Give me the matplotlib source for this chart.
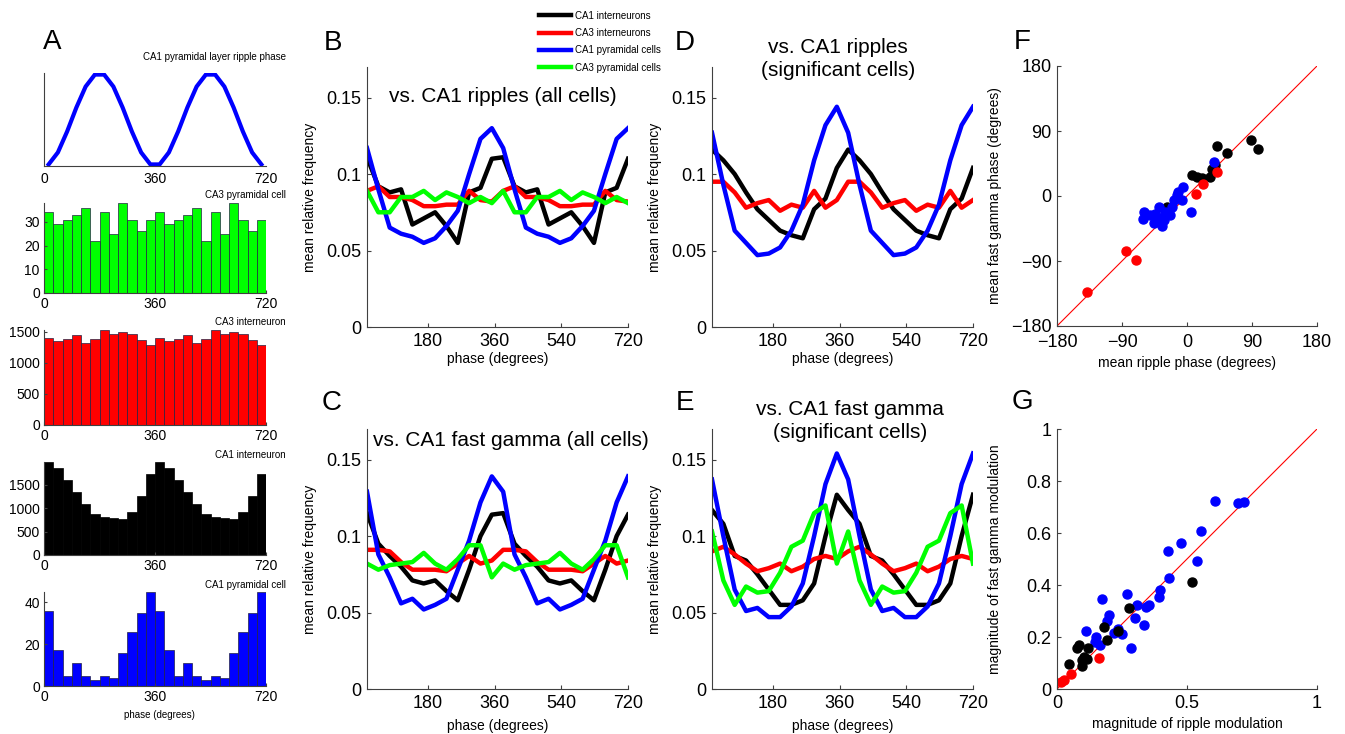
import matplotlib.pyplot as plt
import numpy as np

plt.rcParams["font.family"] = ["Liberation Sans", "DejaVu Sans"]
plt.rcParams["axes.linewidth"] = 0.8
plt.rcParams["axes.edgecolor"] = "#404040"
plt.rcParams["xtick.direction"] = "in"
plt.rcParams["ytick.direction"] = "in"
plt.rcParams["xtick.color"] = "#404040"
plt.rcParams["ytick.color"] = "#404040"
plt.rcParams["xtick.labelcolor"] = "black"
plt.rcParams["ytick.labelcolor"] = "black"

FIG_W, FIG_H = 1345, 734

# phase bins: 30 degree bins over two cycles
bin_edges = np.arange(0, 721, 30)
bin_centers = bin_edges[:-1] + 15
line_phase = np.linspace(15, 720, 24)

# ---- A: example cells, spike counts per phase bin ----
ripple_ref = [0.017, 0.146, 0.371, 0.629, 0.854, 0.983, 0.983, 0.854, 0.629, 0.371, 0.146, 0.017,
              0.017, 0.146, 0.371, 0.629, 0.854, 0.983, 0.983, 0.854, 0.629, 0.371, 0.146, 0.017]
ca3_pyr_counts = [34, 29, 31, 33, 36, 22, 34, 25, 38, 31, 26, 31,
                  34, 29, 31, 33, 36, 22, 34, 25, 38, 31, 26, 31]
ca3_int_counts = [1400, 1355, 1375, 1440, 1310, 1375, 1525, 1455, 1495, 1455, 1370, 1280,
                  1400, 1355, 1375, 1440, 1310, 1375, 1525, 1455, 1495, 1455, 1370, 1280]
ca1_int_counts = [1980, 1860, 1590, 1350, 1090, 880, 800, 790, 760, 910, 1250, 1730,
                  1980, 1860, 1590, 1350, 1090, 880, 800, 790, 760, 910, 1250, 1730]
ca1_pyr_counts = [36, 17, 5, 11, 5, 3, 5, 4, 16, 26, 35, 45,
                  36, 17, 5, 11, 5, 3, 5, 4, 16, 26, 35, 45]

# ---- B-E: mean relative frequency, one cycle each (plotted twice) ----
rip_ca1_int = [0.111, 0.092, 0.088, 0.090, 0.067, 0.071, 0.075, 0.066, 0.055, 0.088, 0.091, 0.110]
rip_ca3_int = [0.089, 0.092, 0.085, 0.085, 0.083, 0.079, 0.079, 0.080, 0.080, 0.089, 0.083, 0.082]
rip_ca1_pyr = [0.117, 0.090, 0.065, 0.061, 0.059, 0.055, 0.058, 0.066, 0.076, 0.100, 0.123, 0.130]
rip_ca3_pyr = [0.089, 0.075, 0.075, 0.085, 0.085, 0.089, 0.083, 0.088, 0.085, 0.081, 0.085, 0.081]

gam_ca1_int = [0.115, 0.095, 0.087, 0.080, 0.071, 0.069, 0.071, 0.064, 0.058, 0.078, 0.100, 0.114]
gam_ca3_int = [0.091, 0.091, 0.090, 0.083, 0.078, 0.078, 0.078, 0.077, 0.082, 0.087, 0.082, 0.084]
gam_ca1_pyr = [0.129, 0.088, 0.073, 0.056, 0.059, 0.052, 0.055, 0.059, 0.078, 0.097, 0.122, 0.139]
gam_ca3_pyr = [0.082, 0.078, 0.081, 0.082, 0.083, 0.089, 0.082, 0.078, 0.085, 0.094, 0.094, 0.073]

rip_sig_ca1_int = [0.116, 0.109, 0.100, 0.088, 0.077, 0.070, 0.063, 0.060, 0.058, 0.077, 0.084, 0.104]
rip_sig_ca3_int = [0.095, 0.095, 0.088, 0.078, 0.081, 0.083, 0.076, 0.080, 0.078, 0.089, 0.078, 0.083]
rip_sig_ca1_pyr = [0.127, 0.093, 0.063, 0.055, 0.047, 0.048, 0.052, 0.063, 0.080, 0.109, 0.132, 0.144]

gam_sig_ca1_int = [0.117, 0.108, 0.087, 0.084, 0.075, 0.065, 0.055, 0.055, 0.058, 0.069, 0.100, 0.127]
gam_sig_ca3_int = [0.090, 0.093, 0.088, 0.082, 0.077, 0.079, 0.082, 0.077, 0.080, 0.085, 0.087, 0.085]
gam_sig_ca1_pyr = [0.137, 0.100, 0.065, 0.051, 0.053, 0.047, 0.047, 0.054, 0.069, 0.100, 0.134, 0.154]
gam_sig_ca3_pyr = [0.103, 0.071, 0.055, 0.067, 0.063, 0.064, 0.076, 0.093, 0.097, 0.115, 0.120, 0.082]

# ---- F: mean phase of each cell, ripple vs fast gamma (degrees) ----
f_ca1_int_x = [-28, 7, 14, 21, 32, 35, 39, 41, 56, 89, 98]
f_ca1_int_y = [-15, 29, 27, 25, 27, 38, 43, 69, 59, 78, 65]
f_ca3_int_x = [-139, -84, -71, 13, 22, 41]
f_ca3_int_y = [-133, -76, -89, 3, 16, 33]
f_ca1_pyr_x = [-60, -61, -51, -46, -39, -35, -38, -30, -23, -18, -12, -5, -7, 5, -44, -21, -14, -32, 37]
f_ca1_pyr_y = [-22, -32, -26, -38, -15, -42, -31, -22, -26, -6, 6, 13, -6, -22, -25, -15, 1, -33, 47]

# ---- G: modulation magnitude, ripple vs fast gamma ----
g_ca1_int_x = [0.048, 0.083, 0.077, 0.102, 0.096, 0.121, 0.115, 0.179, 0.192, 0.236, 0.277, 0.518, 0.096]
g_ca1_int_y = [0.097, 0.170, 0.157, 0.125, 0.113, 0.157, 0.115, 0.237, 0.189, 0.225, 0.313, 0.413, 0.087]
g_ca3_int_x = [0.015, 0.025, 0.054, 0.160]
g_ca3_int_y = [0.028, 0.036, 0.057, 0.120]
g_ca1_pyr_x = [0.111, 0.150, 0.145, 0.164, 0.173, 0.201, 0.194, 0.220, 0.236, 0.250, 0.268, 0.284,
               0.300, 0.307, 0.333, 0.342, 0.355, 0.391, 0.397, 0.430, 0.428, 0.476, 0.537, 0.554,
               0.609, 0.697, 0.719]
g_ca1_pyr_y = [0.225, 0.200, 0.180, 0.168, 0.346, 0.286, 0.263, 0.217, 0.230, 0.210, 0.365, 0.157,
               0.275, 0.322, 0.245, 0.315, 0.325, 0.355, 0.379, 0.427, 0.532, 0.560, 0.494, 0.607,
               0.724, 0.714, 0.720]

GREEN = "#00ff00"
RED = "#ff0000"
BLUE = "#0000ff"
BLACK = "#000000"


def add_axes(fig, left, top, right, bottom):
    """Axes placed by pixel edges."""
    ax = fig.add_axes([left / FIG_W, 1 - bottom / FIG_H,
                       (right - left) / FIG_W, (bottom - top) / FIG_H])
    ax.spines["top"].set_visible(False)
    ax.spines["right"].set_visible(False)
    return ax


def fig_text(fig, x, y, s, **kw):
    fig.text(x / FIG_W, 1 - y / FIG_H, s, **kw)


def two_cycles(cycle):
    return np.concatenate([cycle, cycle])


fig = plt.figure(figsize=(FIG_W / 100, FIG_H / 100), dpi=100)

# ---------------- column A ----------------
hist_rows = [
    (203, 293, ca3_pyr_counts, GREEN, [0, 10, 20, 30], "CA3 pyramidal cell", 195),
    (330, 425, ca3_int_counts, RED, [0, 500, 1000, 1500], "CA3 interneuron", 322),
    (462, 555, ca1_int_counts, BLACK, [0, 500, 1000, 1500], "CA1 interneuron", 455),
    (592, 686, ca1_pyr_counts, BLUE, [0, 20, 40], "CA1 pyramidal cell", 585),
]

ax = add_axes(fig, 44, 73, 266, 166)
ax.plot(bin_centers, ripple_ref, color=BLUE, lw=3.0, solid_joinstyle="miter")
ax.set_xlim(0, 720)
ax.set_ylim(0, 1)
ax.set_yticks([])
ax.set_xticks([0, 360, 720])
ax.tick_params(labelsize=10, length=0, pad=4)
fig_text(fig, 286, 57, "CA1 pyramidal layer ripple phase", fontsize=7, ha="right", va="center")

for top, bottom, counts, color, yticks, name, name_y in hist_rows:
    ax = add_axes(fig, 44, top, 266, bottom)
    edge = "#222244" if color != BLACK else BLACK
    ax.bar(bin_edges[:-1], counts, width=30, align="edge", color=color,
           edgecolor=edge, linewidth=0.5)
    ax.set_xlim(0, 720)
    ax.set_ylim(0, max(counts))
    ax.set_xticks([0, 360, 720])
    ax.set_yticks(yticks)
    ax.tick_params(labelsize=10, length=2.5, pad=3)
    fig_text(fig, 286, name_y, name, fontsize=7, ha="right", va="center")
    last = ax
last.set_xlabel("phase (degrees)", fontsize=7)
last.xaxis.set_label_coords(0.52, -0.26)

fig_text(fig, 52, 42, "A", fontsize=20, ha="center", va="center")

# ---------------- B-E ----------------
line_panels = [
    # (left, top, right, bottom, series, letter, letter_xy, title, title_xy, xlabel_y)
    (367, 67, 628, 327,
     [rip_ca1_int, rip_ca3_int, rip_ca1_pyr, rip_ca3_pyr],
     "B", (333, 43), "vs. CA1 ripples (all cells)", (503, 96), -0.096),
    (367, 429, 628, 689,
     [gam_ca1_int, gam_ca3_int, gam_ca1_pyr, gam_ca3_pyr],
     "C", (332, 403), "vs. CA1 fast gamma (all cells)", (511, 440), -0.115),
    (712, 67, 973, 327,
     [rip_sig_ca1_int, rip_sig_ca3_int, rip_sig_ca1_pyr, None],
     "D", (685, 43), "vs. CA1 ripples\n(significant cells)", (838, 59), -0.096),
    (712, 429, 973, 689,
     [gam_sig_ca1_int, gam_sig_ca3_int, gam_sig_ca1_pyr, gam_sig_ca3_pyr],
     "E", (685, 403), "vs. CA1 fast gamma\n(significant cells)", (850, 421), -0.115),
]
labels = ["CA1 interneurons", "CA3 interneurons", "CA1 pyramidal cells", "CA3 pyramidal cells"]
colors = [BLACK, RED, BLUE, GREEN]

handles = None
for left, top, right, bottom, series, letter, lxy, title, txy, xlab_y in line_panels:
    ax = add_axes(fig, left, top, right, bottom)
    lines = []
    for vals, c, lab in zip(series, colors, labels):
        if vals is None:
            continue
        ln, = ax.plot(line_phase, two_cycles(vals), color=c, lw=3.2, label=lab)
        lines.append(ln)
    if handles is None:
        handles = lines
    ax.set_xlim(15, 720)
    ax.set_ylim(0, 0.17)
    ax.set_xticks([180, 360, 540, 720])
    ax.set_yticks([0, 0.05, 0.1, 0.15])
    ax.set_yticklabels(["0", "0.05", "0.1", "0.15"])
    ax.tick_params(labelsize=13, length=3, pad=4)
    ax.set_xlabel("phase (degrees)", fontsize=10)
    ax.set_ylabel("mean relative frequency", fontsize=10)
    ax.xaxis.set_label_coords(0.5, xlab_y)
    ax.yaxis.set_label_coords(-0.19, 0.5)
    fig_text(fig, lxy[0], lxy[1], letter, fontsize=20, ha="center", va="center")
    fig_text(fig, txy[0], txy[1], title, fontsize=15, ha="center", va="center",
             linespacing=1.3)

fig.legend(handles=handles, loc="upper left", bbox_to_anchor=(535 / FIG_W, 1 - 7 / FIG_H),
           frameon=False, fontsize=7, handlelength=3.3, handletextpad=0.4,
           labelspacing=0.75, borderaxespad=0)

# ---------------- F ----------------
ax = add_axes(fig, 1057, 66, 1317, 326)
ax.plot([-180, 180], [-180, 180], color=RED, lw=0.8)
ax.plot(f_ca1_int_x, f_ca1_int_y, "o", color=BLACK, ms=6.5)
ax.plot(f_ca3_int_x, f_ca3_int_y, "o", color=RED, ms=6.5)
ax.plot(f_ca1_pyr_x, f_ca1_pyr_y, "o", color=BLUE, ms=6.5)
ax.set_xlim(-180, 180)
ax.set_ylim(-180, 180)
ax.set_xticks([-180, -90, 0, 90, 180])
ax.set_yticks([-180, -90, 0, 90, 180])
ax.tick_params(labelsize=13, length=3, pad=4)
ax.tick_params(axis="x", pad=6)
ax.set_xlabel("mean ripple phase (degrees)", fontsize=10)
ax.set_ylabel("mean fast gamma phase (degrees)", fontsize=10)
ax.xaxis.set_label_coords(0.5, -0.115)
ax.yaxis.set_label_coords(-0.21, 0.5)
fig_text(fig, 1022, 42, "F", fontsize=20, ha="center", va="center")

# ---------------- G ----------------
ax = add_axes(fig, 1057, 429, 1317, 689)
ax.plot([0, 1], [0, 1], color=RED, lw=0.8)
ax.plot(g_ca1_pyr_x, g_ca1_pyr_y, "o", color=BLUE, ms=6.5)
ax.plot(g_ca1_int_x, g_ca1_int_y, "o", color=BLACK, ms=6.5)
ax.plot(g_ca3_int_x, g_ca3_int_y, "o", color=RED, ms=6.5)
ax.set_xlim(0, 1)
ax.set_ylim(0, 1)
ax.set_xticks([0, 0.5, 1])
ax.set_xticklabels(["0", "0.5", "1"])
ax.set_yticks([0, 0.2, 0.4, 0.6, 0.8, 1])
ax.set_yticklabels(["0", "0.2", "0.4", "0.6", "0.8", "1"])
ax.tick_params(labelsize=13, length=3, pad=4)
ax.set_xlabel("magnitude of ripple modulation", fontsize=10)
ax.set_ylabel("magnitude of fast gamma modulation", fontsize=10)
ax.xaxis.set_label_coords(0.5, -0.108)
ax.yaxis.set_label_coords(-0.21, 0.5)
fig_text(fig, 1022, 402, "G", fontsize=20, ha="center", va="center")

fig.savefig("out.png", dpi=100)
